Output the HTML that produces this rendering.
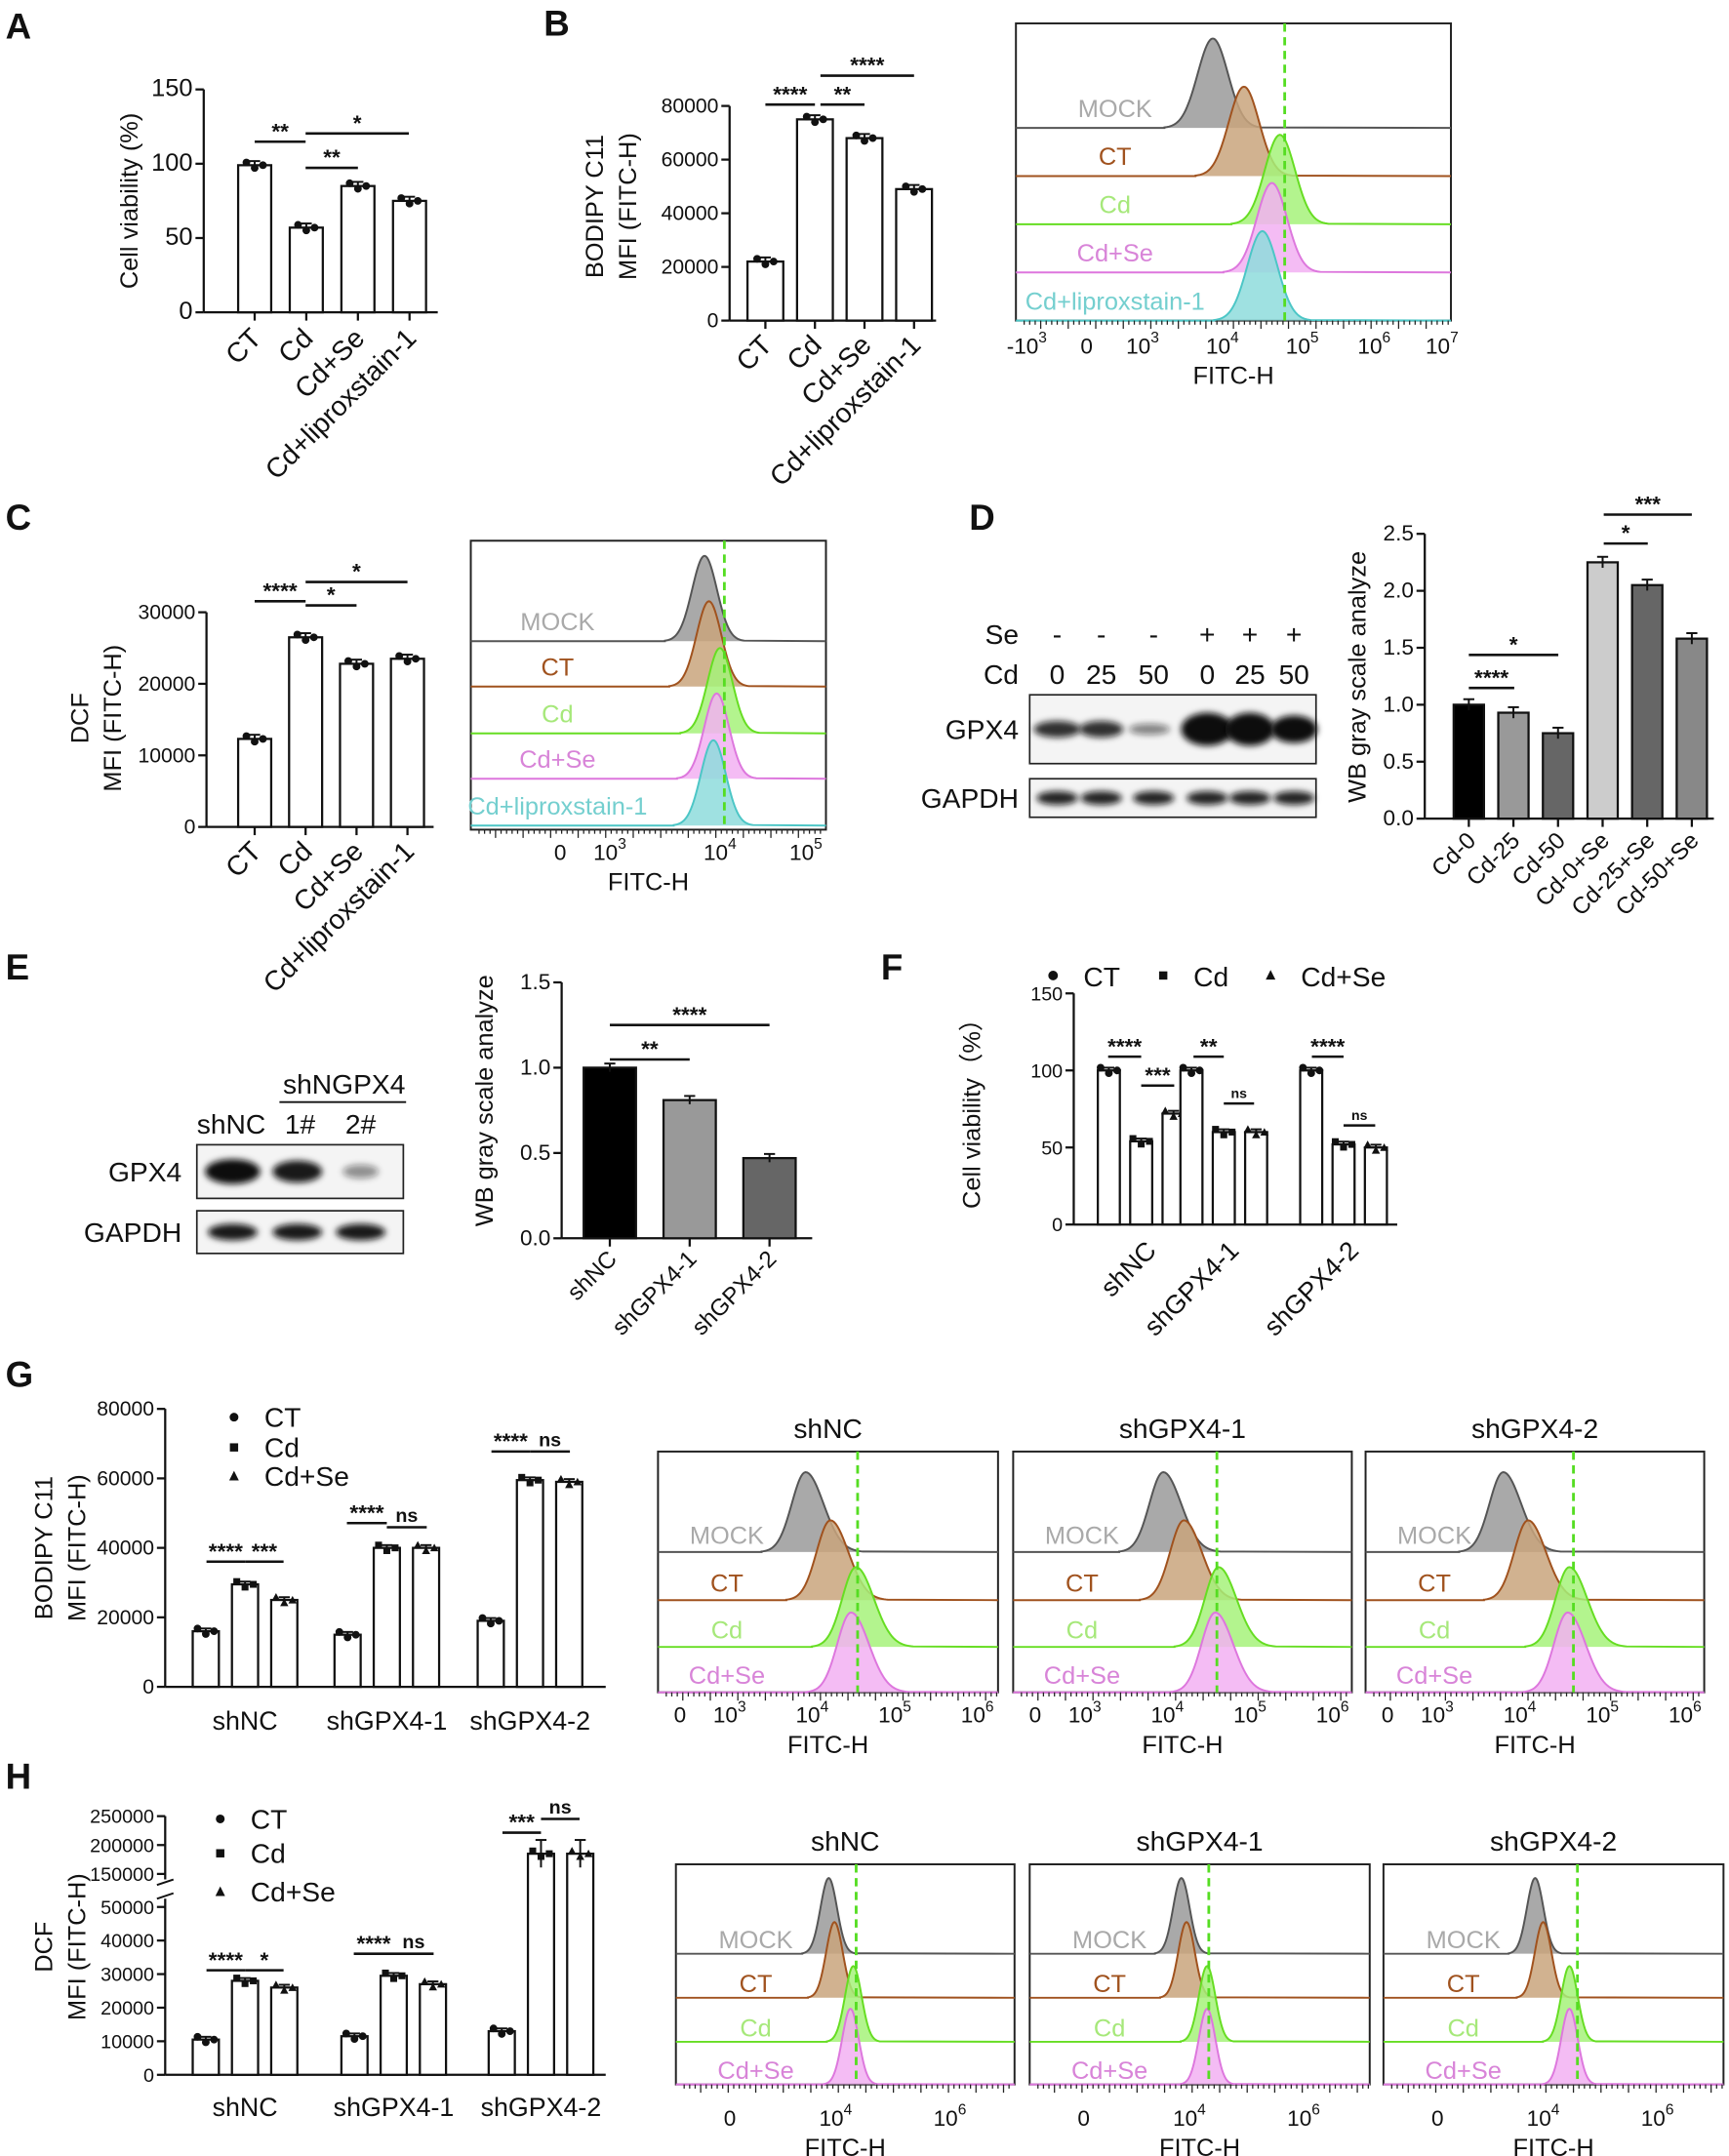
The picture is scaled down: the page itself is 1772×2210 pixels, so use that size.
<!DOCTYPE html>
<html><head><meta charset="utf-8"><style>
html,body{margin:0;padding:0;background:#fff}
svg{display:block}
text{font-family:"Liberation Sans",Arial,sans-serif}
</style></head><body>
<svg id="fig" xmlns="http://www.w3.org/2000/svg" width="1772" height="2210" viewBox="0 0 1256 1567" preserveAspectRatio="none" fill="#111">
<defs><filter id="blur" x="-20%" y="-50%" width="140%" height="200%"><feGaussianBlur stdDeviation="2.2"/></filter></defs>
</svg>
<script>
// ===== DATA =====
const catsA=["CT","Cd","Cd+Se","Cd+liproxstain-1"];
const valsA=[99,57,85,75];
const ticksA=[0,50,100,150];
const catsB=["CT","Cd","Cd+Se","Cd+liproxstain-1"];
const valsB=[22000,75000,68000,49000];
const ticksB=[0,20000,40000,60000,80000];
const catsC=["CT","Cd","Cd+Se","Cd+liproxstain-1"];
const valsC=[12300,26500,22800,23500];
const ticksC=[0,10000,20000,30000];
const catsD=["Cd-0","Cd-25","Cd-50","Cd-0+Se","Cd-25+Se","Cd-50+Se"];
const valsD=[1.0,0.93,0.75,2.25,2.05,1.58];
const ticksD=[0,0.5,1.0,1.5,2.0,2.5];
const catsE=["shNC","shGPX4-1","shGPX4-2"];
const valsE=[1.0,0.81,0.47];
const ticksE=[0,0.5,1.0,1.5];
const groupsF=["shNC","shGPX4-1","shGPX4-2"];
const seriesF=["CT","Cd","Cd+Se"];
const valsFCT=[100,100,100];
const valsFCd=[54,60,52];
const valsFSe=[72,60,50];
const ticksF=[0,50,100,150];
const groupsG=["shNC","shGPX4-1","shGPX4-2"];
const valsGCT=[16000,15000,19000];
const valsGCd=[29500,40000,59500];
const valsGSe=[25000,40000,59000];
const ticksG=[0,20000,40000,60000,80000];
const groupsH=["shNC","shGPX4-1","shGPX4-2"];
const valsHCT=[10500,11500,13000];
const valsHCd=[28000,29500,185000];
const valsHSe=[26000,27000,185000];
const ticksH=[0,10000,20000,30000,40000,50000,150000,200000,250000];
const histRows5=["MOCK","CT","Cd","Cd+Se","Cd+liproxstain-1"];
const histRows4=["MOCK","CT","Cd","Cd+Se"];
const peaksB=[3.88,4.27,4.72,4.62,4.5];
const peaksC=[3.86,3.9,4.0,3.97,3.94];
const peaksG1=[3.92,4.22,4.53,4.47];
const peaksG2=[3.95,4.2,4.62,4.58];
const peaksG3=[3.8,4.1,4.6,4.58];
const peaksH1=[3.88,3.98,4.31,4.26];
const peaksH2=[3.86,3.95,4.31,4.31];
const peaksH3=[3.86,4.0,4.46,4.46];
const gateB=4.78, gateC=4.04, gateG=[4.55,4.6,4.65], gateH=[4.36,4.34,4.6];

// ===== HELPERS =====
const svg=document.getElementById('fig');
const NS='http://www.w3.org/2000/svg';
function mk(tag,attrs,txt){const e=document.createElementNS(NS,tag);for(const k in attrs)e.setAttribute(k,attrs[k]);if(txt!==undefined)e.textContent=txt;svg.appendChild(e);return e;}
function lin(v0,p0,v1,p1){return v=>p0+(v-v0)*(p1-p0)/(v1-v0);}
function fmt(v){return String(v);}
const rowCol={"MOCK":["#9a9a9a","#555","#a9a9a9"],"CT":["#c9a47c","#a0521e","#a0521e"],"Cd":["#a6f27a","#66dd22","#a6e87a"],"Cd+Se":["#f2b0f2","#dd77dd","#d884d8"],"Cd+liproxstain-1":["#8edcdc","#4cc6c6","#74cfcf"]};

function panelLetter(t,x,y){const e=mk('text',{x:x,y:y,'font-size':26,'font-weight':'bold'},t);

}

function yAxis(x,ys,ticks,labels,yTop,yBot,name){
 const l=mk('line',{x1:x,y1:yTop,x2:x,y2:yBot,stroke:'#111','stroke-width':1.6});
 
 
 ticks.forEach((t,i)=>{const y=ys(t);
  mk('line',{x1:x-6,y1:y,x2:x,y2:y,stroke:'#111','stroke-width':1.6});
  const tx=mk('text',{x:x-8,y:y+5,'font-size':labels.fs||16,'text-anchor':'end'},labels.f?labels.f(t):fmt(t));
  
  });
}
function yTitle(lines,x,cy,name,fs){lines.forEach((s,i)=>{const t=mk('text',{x:x+i*24,y:cy,'font-size':fs||18,'text-anchor':'middle',transform:`rotate(-90 ${x+i*24} ${cy})`},s);
 
 });}
function bar(cx,w,y0,y,fill,name){const r=mk('rect',{x:cx-w/2,y:Math.min(y,y0),width:w,height:Math.abs(y0-y),fill:fill,stroke:'#111','stroke-width':1.6});
 
 }
function err(cx,y,d){mk('line',{x1:cx,y1:y-d,x2:cx,y2:y+d,stroke:'#111','stroke-width':1.4});mk('line',{x1:cx-4,y1:y-d,x2:cx+4,y2:y-d,stroke:'#111','stroke-width':1.4});}
function dots(cx,y,shape){[-6,0,6].forEach((o,i)=>{const yy=y+[-2,2,0][i];
 if(shape==='sq')mk('rect',{x:cx+o-2.5,y:yy-2.5,width:5,height:5,fill:'#111'});
 else if(shape==='tri')mk('path',{d:`M${cx+o} ${yy-3}L${cx+o+3} ${yy+2.5}L${cx+o-3} ${yy+2.5}Z`,fill:'#111'});
 else mk('circle',{cx:cx+o,cy:yy,r:2.8,fill:'#111'});});}
function sig(x1,x2,y,txt,fs){const l=mk('line',{x1:x1,y1:y,x2:x2,y2:y,stroke:'#111','stroke-width':1.8});
 
 
 const t=mk('text',{x:(x1+x2)/2,y:txt==='ns'?y-4:y-2,'font-size':txt==='ns'?(fs||12):16,'font-weight':'bold','text-anchor':'middle'},txt);
 
 }
function xCatRot(labels,centers,y,name,fs){labels.forEach((s,i)=>{const x=centers[i]+6;const t=mk('text',{x:x,y:y,'font-size':fs||20,'text-anchor':'end',transform:`rotate(-45 ${x} ${y})`},s);
 
 });}

function simpleBars(o){
 const ys=lin(0,o.y0,o.vTop,o.yTop);
 yAxis(o.x,ys,o.ticks,{fs:o.fs,f:o.f},o.yTop,o.y0,o.name);
 const xl=mk('line',{x1:o.x,y1:o.y0,x2:o.xEnd,y2:o.y0,stroke:'#111','stroke-width':1.6});
 
 
 o.vals.forEach((v,i)=>{const cx=o.c0+i*o.step;
  mk('line',{x1:cx,y1:o.y0,x2:cx,y2:o.y0+6,stroke:'#111','stroke-width':1.6});
  bar(cx,o.w,o.y0,ys(v),o.colors?o.colors[i]:'#fff',o.name+'-bar-'+i);
  err(cx,ys(v),o.err||3);
  if(o.dots)dots(cx,ys(v),'c');});
 return ys;
}
function groupedBars(o){
 const ys=o.ys;
 const xl=mk('line',{x1:o.x,y1:o.y0,x2:o.xEnd,y2:o.y0,stroke:'#111','stroke-width':1.6});
 
 
 const series=[o.s1,o.s2,o.s3],shapes=['c','sq','tri'];
 o.groups.forEach((g,gi)=>{
  series.forEach((s,si)=>{const cx=o.gc[gi]+(si-1)*o.step;const y=ys(s[gi]);
   bar(cx,o.w,o.y0,y,'#fff',o.name+'-bar-'+g+'-'+si);err(cx,y,o.err?o.err(s[gi]):2);dots(cx,y,shapes[si]);});
  const t=mk('text',{x:o.gc[gi]+(o.lblOff||0),y:o.y0+o.lblDy,'font-size':19,'text-anchor':o.rot?'end':'middle',transform:o.rot?`rotate(-45 ${o.gc[gi]+12} ${o.y0+o.lblDy})`:''},g);
  if(o.rot)t.setAttribute('x',o.gc[gi]+12);
  
  
 });
}
function legendV(x,ys,names,name){const shapes=['c','sq','tri'];names.forEach((n,i)=>{const y=ys[i];
 if(shapes[i]==='sq')mk('rect',{x:x-3,y:y-3,width:6,height:6,fill:'#111'});
 else if(shapes[i]==='tri')mk('path',{d:`M${x} ${y-4}L${x+3.5} ${y+3}L${x-3.5} ${y+3}Z`,fill:'#111'});
 else mk('circle',{cx:x,cy:y,r:3.2,fill:'#111'});
 const t=mk('text',{x:x+22,y:y+7,'font-size':20},n);
 
 });}

function histo(o){
 const box=mk('rect',{x:o.x0,y:o.y0,width:o.x1-o.x0,height:o.y1-o.y0,fill:'none',stroke:'#222','stroke-width':1.4});
 
 
 const xs=o.xs;
 o.rows.forEach((r,i)=>{const base=o.bases[i];const c=rowCol[r];const px=xs(o.peaks[i]);const sd=o.sd,h=o.h;
  let d=`M${o.x0} ${base}L${px-3.2*sd} ${base}`;
  for(let k=-32;k<=32;k++){const dx=k/10*sd;const yy=base-h*Math.exp(-0.5*Math.pow(dx/sd,2));d+=`L${px+dx*(dx>0?(o.skew||1):1)} ${yy}`;}
  d+=`L${o.x1} ${base}`;
  const p=mk('path',{d:d,fill:c[0],'fill-opacity':0.85,stroke:c[1],'stroke-width':1.4});
  
  
  const t=mk('text',{x:o.lx,y:base-o.ldy,'font-size':o.lfs||18,'text-anchor':'middle',style:'fill:'+c[2]},r);
  
  
 });
 const gx=xs(o.gate);
 const g=mk('line',{x1:gx,y1:o.y0,x2:gx,y2:o.y1,stroke:'#55dd22','stroke-width':2,'stroke-dasharray':'6,4'});
 
 
 for(let x=o.x0+6;x<o.x1;x+=4)mk('line',{x1:x,y1:o.y1,x2:x,y2:o.y1+(Math.round((x-o.x0)/4)%5===0?6:3),stroke:'#222','stroke-width':0.9});
 o.tk.forEach(t=>{const x=xs(t[0]);const tx=mk('text',{x:x,y:o.y1+o.tdy,'font-size':16,'text-anchor':'middle'});
  
  
  if(t[1]==='0'){tx.textContent='0';}
  else{const a=document.createElementNS(NS,'tspan');a.textContent=t[1];tx.appendChild(a);const b=document.createElementNS(NS,'tspan');b.setAttribute('dy',-8);b.setAttribute('font-size',11);b.textContent=t[2];tx.appendChild(b);}
 });
 const ft=mk('text',{x:(o.x0+o.x1)/2,y:o.y1+o.tdy+22,'font-size':18,'text-anchor':'middle'},'FITC-H');
 
 
 if(o.title){const tt=mk('text',{x:(o.x0+o.x1)/2,y:o.y0-10,'font-size':20,'text-anchor':'middle'},o.title);
  
  }
}

// ===== PANEL A =====
panelLetter('A',4,28);
simpleBars({name:'a',x:148,y0:227,yTop:65,vTop:150,ticks:ticksA,vals:valsA,c0:185,step:37.5,w:24,xEnd:318,dots:true,fs:18});
yTitle(['Cell viability (%)'],100,146,'a',18);
xCatRot(catsA,[185,222.5,260,297.5],247,'a');
sig(185,222,103,'**');sig(222,260,122,'**');sig(222,297,97,'*');

// ===== PANEL B =====
panelLetter('B',395,26);
simpleBars({name:'b',x:530,y0:233,yTop:77,vTop:80000,ticks:ticksB,vals:valsB,c0:556,step:36,w:26,xEnd:680,dots:true,fs:15});
yTitle(['BODIPY C11','MFI (FITC-H)'],438,150,'b',18);
xCatRot(catsB,[556,592,628,664],252,'b');
sig(556,592,76,'****');sig(596,628,76,'**');sig(596,664,55,'****');
const xsB=lin(3,830,4,888);
histo({name:'b-hist',x0:738,x1:1054,y0:17,y1:233,xs:xsB,rows:histRows5,peaks:peaksB,bases:[93,128,163,198,233],sd:11,h:65,lx:810,ldy:8,gate:gateB,lfs:18,
 tk:[[1.55,'-10','3'],[2.3,'0'],[3,'10','3'],[4,'10','4'],[5,'10','5'],[5.9,'10','6'],[6.75,'10','7']],tdy:24});

// ===== PANEL C =====
panelLetter('C',4,385);
simpleBars({name:'c',x:150,y0:601,yTop:445,vTop:30000,ticks:ticksC,vals:valsC,c0:185,step:37,w:24,xEnd:315,dots:true,fs:15});
yTitle(['DCF','MFI (FITC-H)'],64,522,'c',18);
xCatRot(catsC,[185,222,259,296],620,'c');
sig(185,222,437,'****');sig(222,259,440,'*');sig(222,296,423,'*');
const xsC=lin(3,443,4,523);
histo({name:'c-hist',x0:342,x1:600,y0:393,y1:603,xs:xsC,rows:histRows5,peaks:peaksC,bases:[466,499,533,566,600],sd:9,h:62,lx:405,ldy:8,gate:gateC,lfs:18,
 tk:[[2.55,'0'],[3,'10','3'],[4,'10','4'],[4.78,'10','5']],tdy:22});

// ===== PANEL D =====
panelLetter('D',704,385);
const dcols=[768,800,838,877,908,940];
const seRow=['-','-','-','+','+','+'],cdRow=['0','25','50','0','25','50'];
let t1=mk('text',{x:740,y:468,'font-size':20,'text-anchor':'end'},'Se');
let t2=mk('text',{x:740,y:497,'font-size':20,'text-anchor':'end'},'Cd');
dcols.forEach((x,i)=>{mk('text',{x:x,y:468,'font-size':20,'text-anchor':'middle'},seRow[i]);mk('text',{x:x,y:497,'font-size':20,'text-anchor':'middle'},cdRow[i]);});
function blot(x0,y0,w,h,label,lx,bands,name){const r=mk('rect',{x:x0,y:y0,width:w,height:h,fill:'#f4f4f4',stroke:'#222','stroke-width':1.2});
 
 
 bands.forEach(b=>mk('ellipse',{cx:b[0],cy:y0+h/2,rx:b[1],ry:b[2],fill:'#111','fill-opacity':b[3],filter:'url(#blur)'}));
 const t=mk('text',{x:lx,y:y0+h/2+7,'font-size':20,'text-anchor':'end'},label);
 
 }
blot(748,505,208,50,'GPX4',740,[[768,17,6,0.85],[800,16,6,0.85],[835,15,4,0.5],[877,19,12,1],[908,18,12,1],[940,17,10,1]],'gpx4-blot-d');
blot(748,566,208,28,'GAPDH',740,dcols.map(x=>[x,15,5,0.9]),'gapdh-blot-d');
const ysD=lin(0,595,2.5,388);
yAxis(1035,ysD,ticksD,{fs:16,f:v=>v.toFixed(1)},388,595,'d');
mk('line',{x1:1035,y1:595,x2:1245,y2:595,stroke:'#111','stroke-width':1.6});
const colD=['#000','#999','#666','#ccc','#666','#888'];
valsD.forEach((v,i)=>{const cx=1067+i*32.4;bar(cx,22,595,ysD(v),colD[i],'d-bar-'+catsD[i]);err(cx,ysD(v),4);mk('line',{x1:cx,y1:595,x2:cx,y2:601,stroke:'#111','stroke-width':1.6});});
yTitle(['WB gray scale analyze'],992,492,'d',18);
xCatRot(catsD,[1067,1099,1132,1164,1197,1229],612,'d',17);
sig(1067,1100,500,'****');sig(1067,1132,476,'*');sig(1165,1197,395,'*');sig(1165,1229,374,'***');

// ===== PANEL E =====
panelLetter('E',4,712);
let e1=mk('text',{x:250,y:795,'font-size':20,'text-anchor':'middle'},'shNGPX4');
mk('line',{x1:203,y1:801,x2:295,y2:801,stroke:'#111','stroke-width':1.4});
mk('text',{x:168,y:824,'font-size':20,'text-anchor':'middle'},'shNC');
mk('text',{x:218,y:824,'font-size':20,'text-anchor':'middle'},'1#');
mk('text',{x:262,y:824,'font-size':20,'text-anchor':'middle'},'2#');
blot(143,832,150,39,'GPX4',132,[[169,20,9,1],[216,18,8,0.95],[262,13,5,0.45]],'gpx4-blot-e');
blot(143,880,150,31,'GAPDH',132,[[169,18,6,0.95],[216,18,6,0.95],[262,18,6,0.95]],'gapdh-blot-e');
simpleBars({name:'e',x:408,y0:900,yTop:714,vTop:1.5,ticks:ticksE,vals:valsE,c0:443,step:58,w:38,xEnd:590,colors:['#000','#999','#666'],fs:16,f:v=>v.toFixed(1),err:3});
yTitle(['WB gray scale analyze'],358,800,'e',18);
xCatRot(catsE,[443,501,559],916,'e',17);
sig(443,501,770,'**');sig(443,559,745,'****');

// ===== PANEL F =====
panelLetter('F',640,712);
[['c',765,'CT'],['sq',845,'Cd'],['tri',923,'Cd+Se']].forEach(s=>{const x=s[1],y=709;
 if(s[0]==='sq')mk('rect',{x:x-3,y:y-3,width:6,height:6,fill:'#111'});else if(s[0]==='tri')mk('path',{d:`M${x} ${y-4}L${x+3.5} ${y+3}L${x-3.5} ${y+3}Z`,fill:'#111'});else mk('circle',{cx:x,cy:y,r:3.5,fill:'#111'});
 const t=mk('text',{x:x+22,y:y+8,'font-size':20},s[2]);});
const ysF=lin(0,890,150,722);
yAxis(780,ysF,ticksF,{fs:14},722,890,'f');
groupedBars({name:'f',ys:ysF,x:780,y0:890,xEnd:1015,groups:groupsF,s1:valsFCT,s2:valsFCd,s3:valsFSe,gc:[829,889,976],step:23.5,w:16,lblDy:20,rot:true});
yTitle(['Cell viability（%）'],712,805,'f',18);
sig(805,829,768,'****');sig(829,853,789,'***');sig(867,889,768,'**');sig(889,911,802,'ns',10);sig(953,976,768,'****');sig(976,999,818,'ns',10);

// ===== PANEL G =====
panelLetter('G',4,1008);
const ysG=lin(0,1226,80000,1024);
yAxis(120,ysG,ticksG,{fs:15},1024,1226,'g');
groupedBars({name:'g',ys:ysG,x:120,y0:1226,xEnd:440,groups:groupsG,s1:valsGCT,s2:valsGCd,s3:valsGSe,gc:[178,281,385],step:28.5,w:19,lblDy:31});
yTitle(['BODIPY C11','MFI (FITC-H)'],38,1125,'g',18);
legendV(170,[1030,1052,1073],seriesF,'g');
sig(150,178,1135,'****');sig(178,206,1135,'***');sig(252,281,1107,'****');sig(281,310,1110,'ns',14);sig(357,385,1055,'****');sig(385,414,1055,'ns',14);
const gBoxes=[[478,725],[736,982],[992,1238]];const gPeaks=[peaksG1,peaksG2,peaksG3];
groupsG.forEach((g,i)=>{const[x0,x1]=gBoxes[i];const xs=lin(3,x0+52,6,x0+232);
 histo({name:'g-hist-'+g,title:g,x0:x0,x1:x1,y0:1055,y1:1230,xs:xs,rows:histRows4,peaks:gPeaks[i],bases:[1128,1163,1197,1230],sd:10,h:58,lx:x0+50,ldy:6,gate:gateG[i],lfs:18,skew:1.3,
  tk:[[2.4,'0'],[3,'10','3'],[4,'10','4'],[5,'10','5'],[6,'10','6']],tdy:22});});

// ===== PANEL H =====
panelLetter('H',4,1300);
function ysH(v){return v<=50000?1508-v*(122/50000):1362-(v-150000)*(42/100000);}
mk('line',{x1:120,y1:1320,x2:120,y2:1366,stroke:'#111','stroke-width':1.6});
mk('line',{x1:120,y1:1380,x2:120,y2:1508,stroke:'#111','stroke-width':1.6});
mk('line',{x1:114,y1:1370,x2:126,y2:1366,stroke:'#111','stroke-width':1.4});
mk('line',{x1:114,y1:1380,x2:126,y2:1376,stroke:'#111','stroke-width':1.4});
ticksH.forEach(t=>{const y=ysH(t);mk('line',{x1:114,y1:y,x2:120,y2:y,stroke:'#111','stroke-width':1.6});
 const tx=mk('text',{x:112,y:y+5,'font-size':14,'text-anchor':'end'},String(t));});
groupedBars({name:'h',ys:ysH,x:120,y0:1508,xEnd:440,groups:groupsH,s1:valsHCT,s2:valsHCd,s3:valsHSe,gc:[178,286,393],step:28.5,w:19,lblDy:30,err:v=>v>100000?10:2});
yTitle(['DCF','MFI (FITC-H)'],38,1415,'h',18);
legendV(160,[1322,1347,1375],seriesF,'h');
sig(150,178,1432,'****');sig(178,206,1432,'*');sig(257,286,1420,'****');sig(286,315,1420,'ns',14);sig(365,393,1332,'***');sig(393,421,1322,'ns',14);
const hBoxes=[[491,737],[748,995],[1005,1252]];const hPeaks=[peaksH1,peaksH2,peaksH3];
groupsH.forEach((g,i)=>{const[x0,x1]=hBoxes[i];const xs=lin(4,x0+116,6,x0+199);
 histo({name:'h-hist-'+g,title:g,x0:x0,x1:x1,y0:1355,y1:1515,xs:xs,rows:histRows4,peaks:hPeaks[i],bases:[1420,1452,1484,1515],sd:6,h:55,lx:x0+58,ldy:4,gate:gateH[i],lfs:18,
  tk:[[2.15,'0'],[4,'10','4'],[6,'10','6']],tdy:30});});
</script>
</body></html>
